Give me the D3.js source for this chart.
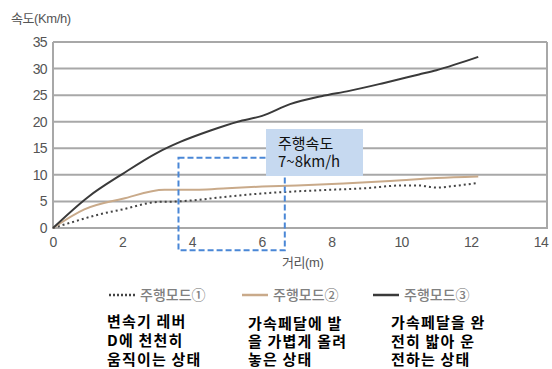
<!DOCTYPE html>
<html>
<head>
<meta charset="utf-8">
<script src="https://cdn.jsdelivr.net/npm/d3@7"></script>
<style>
  body { margin: 0; background: #fff; }
  svg { display: block; }
</style>
</head>
<body>
<div id="chart"></div>
<script>
var width = 552;
var height = 369;
var mainFont = '"Liberation Sans", "Noto Sans CJK KR", sans-serif';
var krFont = '"Noto Sans CJK KR", sans-serif';

// data
var xTicks = [0, 2, 4, 6, 8, 10, 12, 14];
var yTicks = [0, 5, 10, 15, 20, 25, 30, 35];

var mode1 = [[0, 0], [0.5, 1], [1.35, 2.6], [2, 3.5], [3, 4.9], [3.6, 5.0], [4, 5.2], [5, 5.9],
    [6, 6.5], [7, 6.9], [8, 7.2], [9, 7.5], [10, 8.0], [10.5, 8.0], [11, 7.6], [11.5, 7.9], [12.2, 8.5]];
var mode2 = [[0, 0], [0.9, 3.5], [2, 5.5], [3.2, 7.2], [4.2, 7.2], [5, 7.5], [6, 7.8], [7, 8.0],
    [8, 8.3], [9, 8.6], [10, 9.0], [11, 9.4], [12.2, 9.7]];
var mode3 = [[0, 0], [1, 5.8], [2, 10.2], [3, 14.2], [3.65, 16.2], [4.5, 18.3], [5.3, 20.0], [6, 21.1],
    [6.8, 23.3], [7.7, 24.8], [8.5, 25.8], [9.5, 27.3], [10.5, 28.9], [11, 29.7], [12.2, 32.2]];

var seriesNames = ['주행모드①', '주행모드②', '주행모드③'];
var seriesColors = ['#444', '#c9aa8a', '#3a3a3a'];
var seriesDash = ['2,3', null, null];
var notes = [
    ['변속기 레버', 'D에 천천히', '움직이는 상태'],
    ['가속페달에 발', '을 가볍게 올려', '놓은 상태'],
    ['가속페달을 완', '전히 밟아 운', '전하는 상태']
];
var zoneX = [3.6, 6.65];
var zoneY = [13.2, -4.2];
var callout = ['주행속도', '7~8km/h'];

var x = d3.scaleLinear().domain([0, 14]).range([53, 541]);
var y = d3.scaleLinear().domain([0, 35]).range([228, 42]);

var svg = d3.select('#chart').append('svg')
    .attr('width', width)
    .attr('height', height);

// grid
svg.append('g').selectAll('line')
    .data(yTicks)
    .enter().append('line')
    .attr('x1', x(0))
    .attr('x2', x(14) + 6)
    .attr('y1', function(d) { return y(d); })
    .attr('y2', function(d) { return y(d); })
    .style('stroke', '#a8a8a8')
    .style('stroke-width', 2);

svg.append('line')
    .attr('x1', x(0)).attr('x2', x(0))
    .attr('y1', y(35)).attr('y2', y(0) + 1)
    .style('stroke', '#a8a8a8').style('stroke-width', 2);
svg.append('line')
    .attr('x1', x(14) + 6).attr('x2', x(14) + 6)
    .attr('y1', y(35)).attr('y2', y(0) + 1)
    .style('stroke', '#a8a8a8').style('stroke-width', 2);

// tick labels
svg.append('g').selectAll('text')
    .data(yTicks)
    .enter().append('text')
    .attr('x', x(0) - 6)
    .attr('y', function(d) { return y(d) + 5; })
    .style('text-anchor', 'end')
    .style('font-family', mainFont)
    .style('font-size', '14px')
    .style('letter-spacing', '-0.6px')
    .style('fill', '#555')
    .text(function(d) { return d; });

svg.append('g').selectAll('text')
    .data(xTicks)
    .enter().append('text')
    .attr('x', function(d) { return x(d); })
    .attr('y', y(0) + 19)
    .style('text-anchor', 'middle')
    .style('font-family', mainFont)
    .style('font-size', '14px')
    .style('letter-spacing', '-0.6px')
    .style('fill', '#555')
    .text(function(d) { return d; });

svg.append('text')
    .attr('x', 11)
    .attr('y', 23)
    .style('font-family', mainFont)
    .style('font-size', '13px')
    .style('letter-spacing', '-0.4px')
    .style('fill', '#555')
    .text('속도(Km/h)');

svg.append('text')
    .attr('x', 282)
    .attr('y', 267)
    .style('font-family', mainFont)
    .style('font-size', '13px')
    .style('letter-spacing', '-0.4px')
    .style('fill', '#555')
    .text('거리(m)');

// lines
var line = d3.line()
    .x(function(d) { return x(d[0]); })
    .y(function(d) { return y(d[1]); })
    .curve(d3.curveMonotoneX);

[mode1, mode2, mode3].forEach(function(s, i) {
    svg.append('path')
        .datum(s)
        .attr('d', line)
        .style('fill', 'none')
        .style('stroke', seriesColors[i])
        .style('stroke-width', 2)
        .style('stroke-dasharray', seriesDash[i]);
});

// highlighted zone
svg.append('rect')
    .attr('x', x(zoneX[0]))
    .attr('y', y(zoneY[0]))
    .attr('width', x(zoneX[1]) - x(zoneX[0]))
    .attr('height', y(zoneY[1]) - y(zoneY[0]))
    .style('fill', 'none')
    .style('stroke', '#4a87d6')
    .style('stroke-width', 2)
    .style('stroke-dasharray', '6,3');

svg.append('rect')
    .attr('x', 266)
    .attr('y', 129)
    .attr('width', 97)
    .attr('height', 47)
    .style('fill', '#c6d9f0');

callout.forEach(function(t, i) {
    svg.append('text')
        .attr('x', 278)
        .attr('y', 149 + i * 18)
        .style('font-family', krFont)
        .style('font-size', '15px')
        .style('fill', '#111')
        .text(t);
});

// legend
var legendX = [109, 242, 373];
seriesNames.forEach(function(name, i) {
    svg.append('line')
        .attr('x1', legendX[i])
        .attr('x2', legendX[i] + 26)
        .attr('y1', 295)
        .attr('y2', 295)
        .style('stroke', seriesColors[i])
        .style('stroke-width', 2.5)
        .style('stroke-dasharray', i === 0 ? '2,2' : null);
    svg.append('text')
        .attr('x', legendX[i] + 31)
        .attr('y', 300)
        .style('font-family', krFont)
        .style('font-size', '14px')
        .style('font-weight', 500)
        .style('fill', '#808080')
        .text(name);
});

// notes
var noteX = [107, 248, 391];
var noteY = [327, 329, 328];
var noteStep = [19, 18, 18.5];
notes.forEach(function(lines, i) {
    lines.forEach(function(t, j) {
        svg.append('text')
            .attr('x', noteX[i])
            .attr('y', noteY[i] + j * noteStep[i])
            .style('font-family', krFont)
            .style('font-size', '15px')
            .style('font-weight', 'bold')
            .style('letter-spacing', '1.2px')
            .style('fill', '#000')
            .text(t);
    });
});
</script>
</body>
</html>
